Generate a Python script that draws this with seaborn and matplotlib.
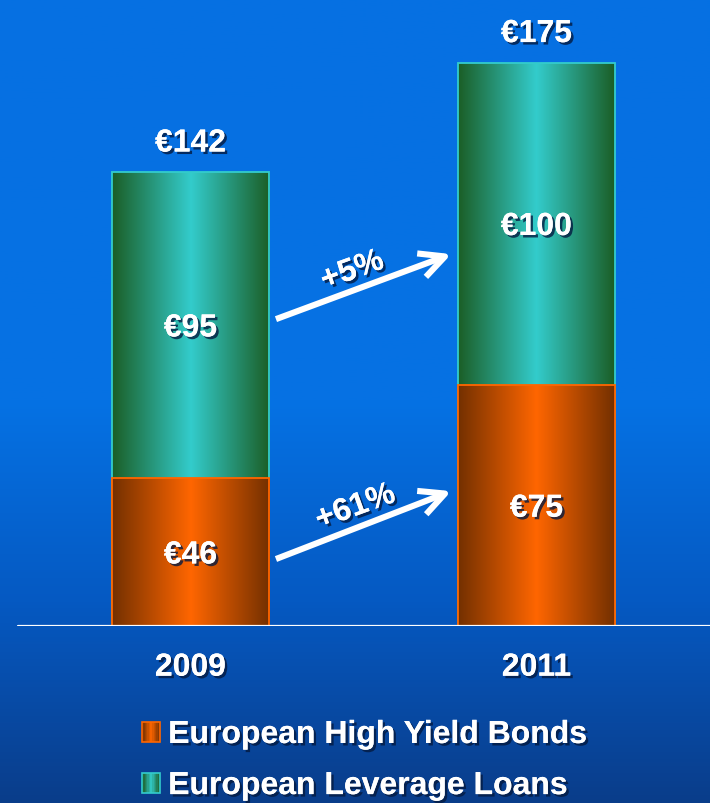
import numpy as np
import pandas as pd
import matplotlib
matplotlib.use("Agg")
import matplotlib.pyplot as plt
import matplotlib.patheffects as pe
from matplotlib.colors import to_rgb
from matplotlib.patches import Rectangle
from matplotlib.legend_handler import HandlerBase
import seaborn as sns

# ---- data (EUR bn) ----
years = ["2009", "2011"]
high_yield = [46, 75]
leverage_loans = [95, 100]
totals = [142, 175]
growth_labels = ["+5%", "+61%"]
series_names = ["European High Yield Bonds", "European Leverage Loans"]

sns.set_theme(style="white")
plt.rcParams["font.family"] = ["Liberation Sans", "DejaVu Sans"]
plt.rcParams["font.weight"] = "bold"

W, H = 710, 804
fig = plt.figure(figsize=(W / 100, H / 100), dpi=100)

# ---- background: vertical blue gradient ----
bg = fig.add_axes([0, 0, 1, 1], zorder=-10)
stops = [(0.0, "#0670E2"), (0.5, "#0672E4"), (0.75, "#0559C2"), (1.0, "#0A3D8A")]
rows = np.linspace(0, 1, 400)
cols = np.array([to_rgb(c) for _, c in stops])
pos = np.array([p for p, _ in stops])
grad = np.stack([np.interp(rows, pos, cols[:, k]) for k in range(3)], axis=1)
bg.imshow(grad[:, None, :], aspect="auto", extent=[0, 1, 0, 1])
bg.set_axis_off()

# ---- main axes ----
base_px = 627          # baseline position from top
px_per_unit = 3.22
ax = fig.add_axes([0, (H - base_px) / H, 1, base_px / H])
ax.patch.set_alpha(0)

df = pd.DataFrame({
    "year": years,
    "hy": high_yield,
    "loans": leverage_loans,
})
df["stack"] = df["hy"] + df["loans"]

teal_dark, teal_light, teal_edge = "#1B5E26", "#33CCCC", "#33CCCC"
orng_dark, orng_light, orng_edge = "#733000", "#FF6600", "#FF6600"

bar_w = 157 / 346
sns.barplot(data=df, x="year", y="stack", width=bar_w, color=teal_light,
            edgecolor=teal_edge, linewidth=1.3, ax=ax, zorder=2)
n_teal = len(ax.patches)
sns.barplot(data=df, x="year", y="hy", width=bar_w, color=orng_light,
            edgecolor=orng_edge, linewidth=1.3, ax=ax, zorder=3)


def hgrad(dark, light, n=256):
    x = np.linspace(0, 1, n)
    t = np.abs(x - 0.5) * 2
    w = np.clip(t, 0, 1) ** 1.0
    d, l = np.array(to_rgb(dark)), np.array(to_rgb(light))
    return (l[None, :] * (1 - w[:, None]) + d[None, :] * w[:, None])[None, :, :]


for i, p in enumerate(ax.patches):
    dark, light = (teal_dark, teal_light) if i < n_teal else (orng_dark, orng_light)
    x0, y0 = p.get_x(), p.get_y()
    x1, y1 = x0 + p.get_width(), y0 + p.get_height()
    img = ax.imshow(hgrad(dark, light), extent=[x0, x1, y0, y1], aspect="auto",
                    zorder=p.get_zorder() - 0.05, interpolation="bilinear")
    img.set_clip_path(p)
    p.set_facecolor("none")

x_left = -190.5 / 346
ax.set_xlim(x_left, x_left + W / 346)
ax.set_ylim(0, base_px / px_per_unit)
ax.set_xlabel("")
ax.set_ylabel("")
ax.set_xticks([])
ax.set_yticks([])
for s in ax.spines.values():
    s.set_visible(False)
ax.axhline(0, xmin=18 / W, xmax=1, color="white", lw=1.6, zorder=4)

shadow = [pe.withSimplePatchShadow(offset=(1.8, -1.8), shadow_rgbFace="#041a40", alpha=0.8),
          pe.Normal()]
fs = 23
txt = dict(color="white", fontsize=fs, fontweight="bold", ha="center",
           path_effects=shadow, zorder=6)

# segment and total labels
for i in range(len(years)):
    hy, ln, tot = high_yield[i], leverage_loans[i], totals[i]
    ax.text(i, hy / 2, f"€{hy}", va="center_baseline", **txt)
    ax.text(i, df["stack"][i] - ln / 2, f"€{ln}", va="center_baseline", **txt)
    ax.annotate(f"€{tot}", xy=(i, df["stack"][i]), xytext=(0, 23),
                textcoords="offset points", va="center_baseline", **txt)
    ax.annotate(years[i], xy=(i, 0), xytext=(0, -27.5),
                textcoords="offset points", va="center_baseline", **txt)

# growth arrows between the bars
arrow_specs = [(95.3, 115.5), (20.8, 41.9)]
label_pos = [(0.468, 114.5), (0.477, 42.0)]
for k, (ys, ye) in enumerate(arrow_specs):
    ax.annotate("", xy=(0.754, ye), xytext=(0.247, ys),
                arrowprops=dict(arrowstyle="->,head_length=1.5,head_width=0.75",
                                lw=4.4, color="white", shrinkA=0, shrinkB=0,
                                capstyle="butt"),
                zorder=5)
    lx, ly = label_pos[k]
    ax.text(lx, ly, growth_labels[k], rotation=20, va="center_baseline",
            **{**txt, "fontsize": 23})


# ---- legend with gradient swatches ----
class GradientSwatch(HandlerBase):
    def __init__(self, dark, light, edge):
        super().__init__()
        self.dark, self.light, self.edge = dark, light, edge

    def create_artists(self, legend, orig_handle, xdescent, ydescent, width,
                       height, fontsize, trans):
        n = 14
        cols = hgrad(self.dark, self.light, n)[0]
        arts = []
        for j in range(n):
            arts.append(Rectangle((-xdescent + width * j / n, -ydescent), width / n + 0.01,
                                  height, facecolor=cols[j], edgecolor="none",
                                  transform=trans))
        arts.append(Rectangle((-xdescent, -ydescent), width, height, fill=False,
                              edgecolor=self.edge, lw=1.2, transform=trans))
        return arts


h_hy = Rectangle((0, 0), 1, 1)
h_ln = Rectangle((0, 0), 1, 1)
leg = fig.legend([h_hy, h_ln], series_names, loc="upper left",
                 bbox_to_anchor=(142 / W, 1 - 721 / H), frameon=False,
                 fontsize=fs, handlelength=0.57, handleheight=0.57,
                 handletextpad=0.25, labelspacing=0.66, borderpad=0,
                 borderaxespad=0,
                 handler_map={h_hy: GradientSwatch(orng_dark, orng_light, orng_edge),
                              h_ln: GradientSwatch(teal_dark, teal_light, teal_edge)})
for t in leg.get_texts():
    t.set_color("white")
    t.set_fontweight("bold")
    t.set_path_effects(shadow)

fig.savefig("out.png", dpi=100)
